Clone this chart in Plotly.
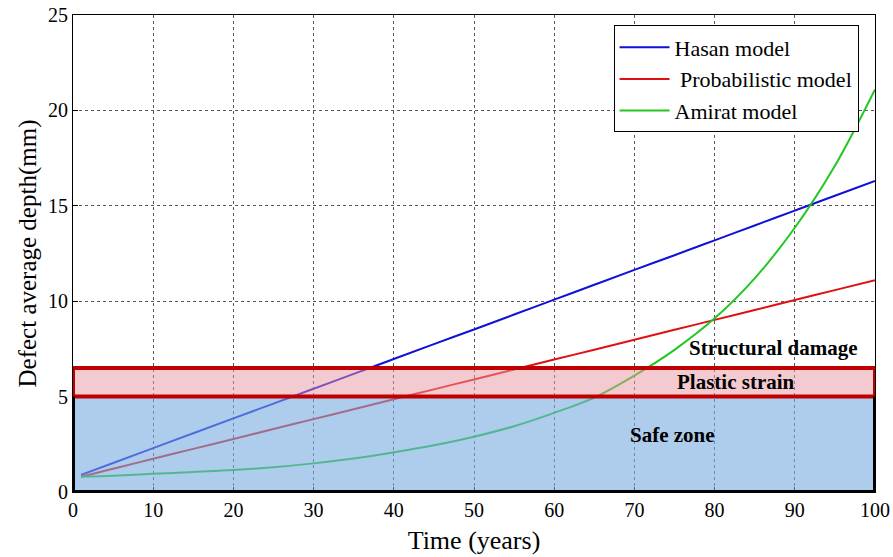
import plotly.graph_objects as go

years = [1, 5, 10, 15, 20, 25, 30, 35, 40, 45, 50, 55, 60, 65, 70, 75, 80, 85, 90, 95, 100]
hasan = [0.9, 1.52, 2.3, 3.08, 3.86, 4.63, 5.41, 6.19, 6.97, 7.75, 8.52, 9.3, 10.08, 10.86, 11.64, 12.41, 13.19, 13.97, 14.75, 15.53, 16.3]
probabilistic = [0.8, 1.22, 1.74, 2.26, 2.78, 3.3, 3.82, 4.34, 4.86, 5.38, 5.9, 6.42, 6.94, 7.46, 7.98, 8.5, 9.02, 9.54, 10.06, 10.58, 11.1]
amirat = [0.8, 0.85, 0.95, 1.05, 1.15, 1.3, 1.5, 1.75, 2.08, 2.45, 2.9, 3.45, 4.15, 4.95, 6.1, 7.45, 9.1, 11.2, 13.85, 17.1, 21.1]

series_names = ["Hasan model", " Probabilistic model", "Amirat model"]
series_colors = ["#1010d8", "#e01010", "#20c820"]

zone_labels = ["Structural damage", "Plastic strain", "Safe zone"]
safe_top = 5
plastic_top = 6.5

x_ticks = [0, 10, 20, 30, 40, 50, 60, 70, 80, 90, 100]
y_ticks = [0, 5, 10, 15, 20, 25]

serif = "Liberation Serif"

fig = go.Figure()
for name, ys, col in zip(series_names, [hasan, probabilistic, amirat], series_colors):
    fig.add_trace(go.Scatter(x=years, y=ys, mode="lines", name=name,
                             line=dict(color=col, width=2, shape="spline")))

# zones (drawn above curves with transparency)
fig.add_shape(type="rect", x0=0, x1=100, y0=0, y1=safe_top, layer="above",
              fillcolor="rgba(120,170,222,0.6)", line=dict(width=0))
fig.add_shape(type="rect", x0=0, x1=100, y0=safe_top, y1=plastic_top, layer="above",
              fillcolor="rgba(232,150,160,0.5)", line=dict(color="#c00000", width=4))
# thick black frame around the safe zone (left, bottom, right)
fig.add_shape(type="path", path=f"M 0,{safe_top} L 0,0 L 100,0 L 100,{safe_top}",
              layer="above", line=dict(color="black", width=4))

label_pos = [(87.3, 7.55), (82.7, 5.77), (74.8, 3.0)]
for txt, (lx, ly) in zip(zone_labels, label_pos):
    fig.add_annotation(x=lx, y=ly, text=f"<b>{txt}</b>", showarrow=False,
                       font=dict(family=serif, size=21, color="black"))

axis_common = dict(showline=True, linecolor="black", linewidth=1, mirror=True,
                   showgrid=True, gridcolor="rgba(0,0,0,0.65)", griddash="dot", gridwidth=1,
                   ticks="inside", ticklen=5, tickcolor="black", zeroline=False,
                   automargin=False,
                   tickfont=dict(family=serif, size=20, color="black"))

fig.update_layout(
    width=893, height=557,
    margin=dict(l=73, r=18, t=15, b=65),
    plot_bgcolor="white", paper_bgcolor="white",
    xaxis=dict(range=[0, 100], tickvals=x_ticks,
               title=dict(text="Time (years)", font=dict(family=serif, size=26, color="black"), standoff=10),
               **axis_common),
    yaxis=dict(range=[0, 25], tickvals=y_ticks,
               title=dict(text="Defect average depth(mm)", font=dict(family=serif, size=25, color="black"), standoff=4),
               **axis_common),
    legend=dict(x=0.674, y=0.978, xanchor="left", yanchor="top",
                bgcolor="white", bordercolor="black", borderwidth=1,
                font=dict(family=serif, size=22, color="black"),
                itemwidth=50, tracegroupgap=0),
    showlegend=True,
)

fig.write_html("out.html")
